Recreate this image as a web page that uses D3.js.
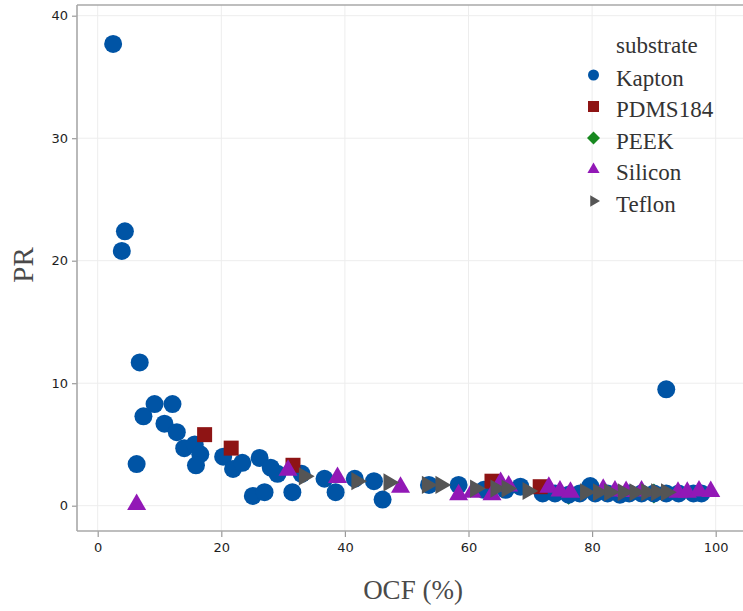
<!DOCTYPE html>
<html>
<head>
<meta charset="utf-8">
<script src="https://cdn.jsdelivr.net/npm/d3@7"></script>
<style>
  html, body { margin: 0; padding: 0; background: #fff; }
  svg { display: block; }
  .serif { font-family: "Liberation Serif", "Times New Roman", serif; }
</style>
</head>
<body>
<div id="chart"></div>
<script>
// ---------- data ----------
const xTicks = [0, 20, 40, 60, 80, 100];
const yTicks = [0, 10, 20, 30, 40];
const seriesNames = ["Kapton", "PDMS184", "PEEK", "Silicon", "Teflon"];
const seriesColors = ["#0054a5", "#8e1414", "#17891f", "#9218b6", "#555555"];

const peek = [[76.2, 0.9], [90, 1.0]];
const kapton = [
  [2.5, 37.7], [4.4, 22.4], [3.9, 20.8], [6.8, 11.7], [7.4, 7.3], [9.2, 8.3],
  [12.1, 8.3], [10.8, 6.7], [12.8, 6.0], [14.0, 4.7], [15.7, 5.0], [16.6, 4.2],
  [15.9, 3.3], [6.3, 3.4], [20.3, 4.0], [21.9, 3.0], [23.4, 3.5], [26.2, 3.9],
  [28.0, 3.1], [29.1, 2.6], [25.1, 0.8], [27.0, 1.1], [31.5, 1.1], [33.0, 2.6],
  [36.7, 2.2], [38.5, 1.1], [41.6, 2.2], [44.7, 2.0], [46.1, 0.5], [53.6, 1.7],
  [58.4, 1.7], [62.5, 1.3], [66.0, 1.3], [68.4, 1.55], [72.0, 1.0], [74.0, 1.0],
  [76.2, 0.9], [78.0, 1.0], [79.7, 1.6], [80.5, 1.0], [82.5, 1.0], [84.5, 0.9],
  [86.0, 1.0], [88.0, 1.0], [90.0, 1.0], [92.0, 1.0], [94.0, 1.0], [96.4, 1.0],
  [97.7, 1.0], [92.0, 9.5]
];
const pdms = [[17.3, 5.8], [21.6, 4.7], [31.6, 3.3], [63.8, 2.0], [71.6, 1.55]];
const silicon = [
  [6.3, 0.1], [30.8, 2.9], [38.8, 2.3], [49.0, 1.5], [58.4, 0.9], [60.6, 1.1],
  [63.8, 0.9], [65.2, 1.9], [66.5, 1.6], [73.0, 1.5], [74.8, 1.2], [76.5, 1.1],
  [81.8, 1.35], [83.7, 1.2], [85.5, 1.15], [88.0, 1.2], [93.9, 1.1], [95.4, 1.1],
  [97.3, 1.2], [99.2, 1.15]
];
const teflon = [
  [33.4, 2.4], [41.9, 2.0], [47.1, 1.9], [53.3, 1.7], [55.5, 1.7], [61.1, 1.4],
  [64.4, 1.4], [66.2, 1.4], [69.6, 1.2], [78.9, 1.1], [81.0, 1.1], [82.8, 1.1],
  [85.0, 1.1], [86.9, 1.1], [88.8, 1.1], [90.4, 1.1], [92.0, 1.1]
];

// ---------- layout ----------
const W = 743, H = 611;
const panel = { left: 77, top: 5, right: 743, bottom: 531 };

const svg = d3.select("#chart").append("svg").attr("width", W).attr("height", H);

const x = d3.scaleLinear().domain([0, 100]).range([97.7, 715.7]);
const y = d3.scaleLinear().domain([0, 40]).range([505.7, 15.7]);

// grid
const grid = svg.append("g");
grid.selectAll("line.vx").data(xTicks).join("line")
  .attr("x1", d => x(d)).attr("x2", d => x(d))
  .attr("y1", panel.top).attr("y2", panel.bottom)
  .attr("stroke", "#ededed").attr("stroke-width", 1);
grid.selectAll("line.hy").data(yTicks).join("line")
  .attr("y1", d => y(d)).attr("y2", d => y(d))
  .attr("x1", panel.left).attr("x2", panel.right)
  .attr("stroke", "#ededed").attr("stroke-width", 1);

// axes
const xAxis = d3.axisBottom(x).tickValues(xTicks).tickSize(6).tickPadding(6);
const yAxis = d3.axisLeft(y).tickValues(yTicks).tickSize(5).tickPadding(4);

const gx = svg.append("g").attr("transform", `translate(0,${panel.bottom})`).call(xAxis);
const gy = svg.append("g").attr("transform", `translate(${panel.left},0)`).call(yAxis);
[gx, gy].forEach(g => {
  g.select(".domain").remove();
  g.selectAll(".tick line").attr("stroke", "#9a9a9a").attr("stroke-width", 1.2);
  g.selectAll(".tick text").attr("fill", "#1e1e1e")
    .style("font-family", "'DejaVu Sans', sans-serif").style("font-size", "13px");
});

// panel border (left, top, bottom)
const border = svg.append("g").attr("stroke", "#a8a8a8").attr("stroke-width", 1.6).attr("fill", "none");
border.append("line").attr("x1", panel.left).attr("x2", panel.left).attr("y1", panel.top).attr("y2", panel.bottom);
border.append("line").attr("x1", panel.left).attr("x2", panel.right).attr("y1", panel.top).attr("y2", panel.top);
border.append("line").attr("x1", panel.left).attr("x2", panel.right).attr("y1", panel.bottom).attr("y2", panel.bottom);

// shapes
const sym = {
  circle: (s) => d3.symbol().type(d3.symbolCircle).size(Math.PI * s * s)(),
  square: (s) => d3.symbol().type(d3.symbolSquare).size(s * s)(),
  diamond: (s) => `M0,${-s}L${s},0L0,${s}L${-s},0Z`,
  triUp: (s) => { const r = s; const xc = r * Math.sqrt(3) / 2; return `M0,${-r}L${xc},${r / 2}L${-xc},${r / 2}Z`; },
  triRight: (s) => { const r = s; const yc = r * Math.sqrt(3) / 2; return `M${r},0L${-r / 2},${yc}L${-r / 2},${-yc}Z`; }
};

const layers = [
  { data: peek, color: seriesColors[2], path: sym.diamond(10) },
  { data: kapton, color: seriesColors[0], path: sym.circle(9) },
  { data: pdms, color: seriesColors[1], path: sym.square(15) },
  { data: silicon, color: seriesColors[3], path: sym.triUp(11) },
  { data: teflon, color: seriesColors[4], path: sym.triRight(10.5) }
];

const plot = svg.append("g");
layers.forEach(L => {
  plot.append("g").selectAll("path").data(L.data).join("path")
    .attr("d", L.path)
    .attr("transform", d => `translate(${x(d[0])},${y(d[1])})`)
    .attr("fill", L.color);
});

// axis titles
svg.append("text").attr("class", "serif").attr("x", 413).attr("y", 599).attr("text-anchor", "middle")
  .style("font-size", "27px").attr("fill", "#4a4a4a").text("OCF (%)");
svg.append("text").attr("class", "serif").attr("transform", "translate(33,265) rotate(-90)").attr("text-anchor", "middle")
  .style("font-size", "29px").attr("fill", "#4a4a4a").text("PR");

// legend
const legend = svg.append("g");
legend.append("text").attr("class", "serif").attr("x", 616).attr("y", 53)
  .style("font-size", "23px").attr("fill", "#333").text("substrate");
const legShapes = [sym.circle(5.5), sym.square(11), sym.diamond(6.5), sym.triUp(7), sym.triRight(6.5)];
const legY = d3.scalePoint().domain(seriesNames).range([75, 201]);
seriesNames.forEach((n, i) => {
  legend.append("path").attr("d", legShapes[i])
    .attr("transform", `translate(593.5,${legY(n)})`).attr("fill", seriesColors[i]);
  legend.append("text").attr("class", "serif").attr("x", 616).attr("y", legY(n) + 10.5)
    .style("font-size", "23px").attr("fill", "#333").text(n);
});
</script>
</body>
</html>
